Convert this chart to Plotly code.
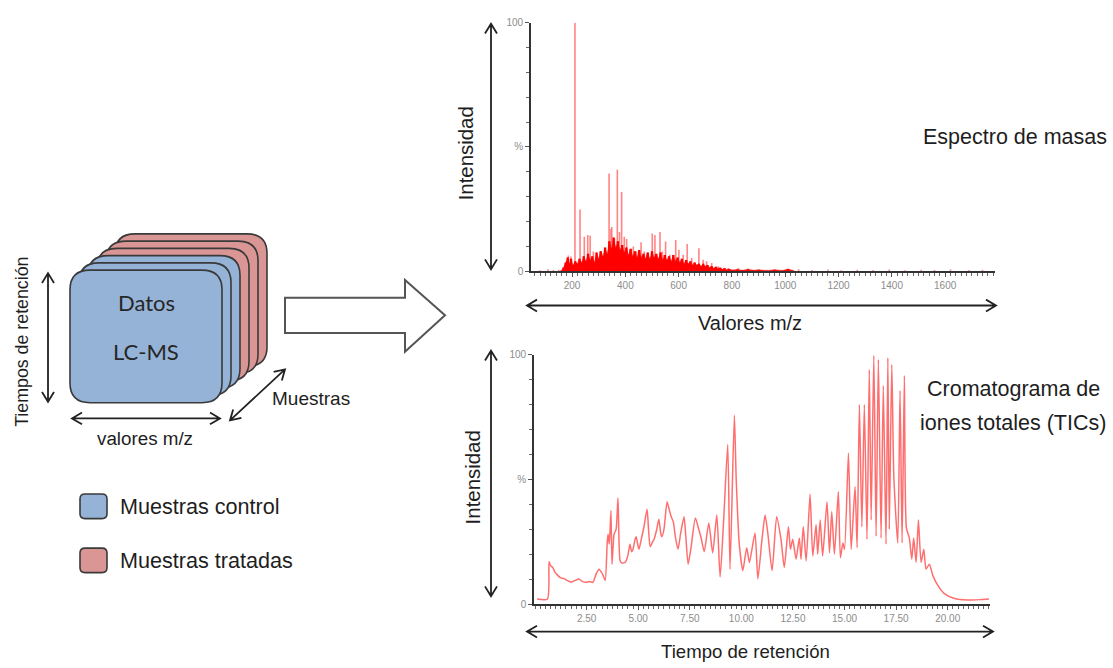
import plotly.graph_objects as go

W, H = 1113, 668

# ---------------- data ----------------
# mass spectrum: prominent peaks (m/z, relative intensity %)
peak_mz = [80, 110, 130, 150, 186, 196, 211, 230, 246, 259, 268, 280, 305, 324,
           339, 346, 349, 359, 370, 378, 386, 396, 405, 417, 430, 442, 459, 471,
           480, 501, 511, 530, 539, 551, 567, 589, 601, 617, 632, 649, 676, 692,
           705, 724, 749, 786, 824, 861, 1050, 1100, 1160, 1210, 1270, 1330, 1390,
           1450, 1510, 1560, 1620, 1690, 1740]
peak_int = [0.4, 0.8, 0.5, 0.6, 6.3, 5.9, 100, 24.8, 13.8, 14.5, 14.2, 7.9, 7.9, 9.2,
            39.3, 17, 17.8, 13.2, 40.8, 15.8, 31.9, 13.8, 12.9, 8.6, 9.9, 7.9, 11.6, 7.9,
            6.6, 15.2, 14.5, 15.8, 7.9, 11.9, 6.6, 12.5, 8.6, 6.6, 10.9, 5.3, 9.2, 4.6,
            4.0, 3.3, 2.0, 1.3, 1.3, 1.0, 0.8, 0.5, 0.7, 0.4, 0.6, 0.5, 0.7,
            0.4, 0.6, 0.5, 0.7, 0.5, 0.6]

# dense low-level ions of the spectrum
base_mz = [160, 168, 176, 184, 190, 196, 204, 212, 220, 228, 236, 244, 252, 260, 268,
           276, 284, 292, 300, 308, 316, 324, 332, 340, 348, 356, 364, 372, 380, 388,
           396, 404, 412, 420, 428, 436, 444, 452, 460, 468, 476, 484, 492, 500, 508,
           516, 524, 532, 540, 548, 556, 564, 572, 580, 588, 596, 604, 612, 620, 628,
           636, 644, 652, 660, 668, 676, 684, 692, 700, 708, 716, 724, 732, 740, 748,
           756, 764, 772, 780, 790, 800, 820, 840, 860, 880, 900, 930, 960, 990, 1010, 1030]
base_int = [0.3, 1.5, 3.5, 5.5, 3, 5, 2.5, 4, 3, 5, 3.5, 6, 4, 7, 4.5,
            6, 3.5, 7.5, 5, 8, 6, 9.5, 7, 12, 9, 13.5, 9.5, 12, 8.5, 10.5,
            7.5, 9.5, 6.5, 9, 6, 8, 5.5, 8.5, 5.5, 7, 5, 7.5, 5, 8, 5.5,
            7, 5, 7.5, 4.5, 6.5, 4.5, 6, 4, 6.5, 4, 5.5, 3.5, 5, 3, 4.5,
            3, 4, 2.5, 3.5, 2.5, 3, 2, 3, 2, 2.5, 1.5, 2, 1.2, 1.8, 1,
            1.4, 0.8, 1.2, 0.6, 0.9, 0.5, 0.7, 0.4, 0.8, 0.4, 0.6, 0.3, 0.6, 0.3, 0.9, 0.3]

mz_ticks = [200, 400, 600, 800, 1000, 1200, 1400, 1600]

# total ion chromatogram (retention time in min, relative intensity %)
tic_time = [0.1, 0.6, 0.68, 0.75, 0.87, 0.95, 1.1, 1.25, 1.4, 1.55, 1.75, 1.95, 2.13, 2.3,
            2.47, 2.65, 2.8, 2.96, 3.1, 3.2, 3.3, 3.4, 3.5, 3.54, 3.6, 3.68, 3.73, 3.83,
            3.93, 4.02, 4.12, 4.2, 4.31, 4.4, 4.5, 4.6, 4.68, 4.75, 4.85, 4.9, 5.0, 5.04,
            5.15, 5.28, 5.43, 5.5, 5.58, 5.7, 5.77, 5.9, 6.0, 6.1, 6.15, 6.25, 6.4, 6.5,
            6.6, 6.7, 6.8, 6.93, 7.05, 7.22, 7.3, 7.42, 7.55, 7.77, 7.9, 8.05, 8.2, 8.42,
            8.61, 8.81, 8.97, 9.15, 9.34, 9.45, 9.66, 9.75, 9.9, 10.07, 10.26, 10.39, 10.66,
            10.8, 11.0, 11.15, 11.28, 11.49, 11.71, 11.92, 12.08, 12.28, 12.38, 12.49,
            12.65, 12.81, 12.89, 13.0, 13.14, 13.33, 13.46, 13.62, 13.7, 13.82, 13.94,
            14.15, 14.27, 14.38, 14.51, 14.7, 14.8, 14.92, 15.0, 15.19, 15.32, 15.51,
            15.61, 15.72, 15.84, 15.96, 16.09, 16.2, 16.29, 16.42, 16.53, 16.64, 16.77,
            16.88, 17.01, 17.1, 17.17, 17.29, 17.39, 17.58, 17.69, 17.79, 17.9, 18.0,
            18.14, 18.26, 18.35, 18.47, 18.58, 18.71, 18.84, 18.95, 19.11, 19.28, 19.52,
            19.84, 20.33, 20.97, 21.62, 22.0]
tic_int = [2, 2, 17, 15.5, 14.5, 13, 11.5, 10.5, 10.2, 9.5, 8.8, 9.5, 10, 9,
           8.7, 9, 8.7, 12, 14, 13, 11.5, 9.5, 25, 28, 24, 37.5, 16, 28,
           30, 42.5, 17.5, 16.5, 16.5, 17, 19.5, 24, 21, 22, 26, 27, 23, 22,
           26, 31, 38, 30, 23, 25, 26, 30, 34, 28, 27, 30, 41, 38,
           35, 33, 27, 22, 28, 35, 28, 16, 22, 34.5, 31, 26.5, 21, 32.5,
           20.5, 35.7, 10.8, 35, 64, 14, 75.7, 50, 24, 13.4, 22.6, 16.7, 28.5,
           10.1, 26, 35.7, 28.5, 13.4, 35, 26, 14.7, 31, 22, 26,
           18, 26.5, 18, 31, 17.3, 44, 19.3, 31.8, 20, 33.7, 19.3,
           41, 20.6, 37, 20, 45, 18.6, 24.5, 21.9, 60.6, 21.9, 47,
           22.6, 80, 31, 80, 26, 94, 33.7, 99.6, 27.2, 98, 26.5,
           87.5, 24, 98.7, 30, 96, 51, 24.5, 85.6, 24.5, 91.5, 30.4,
           26.5, 18, 26.5, 16.7, 33.7, 16.7, 22, 14, 16, 11.4, 7.5,
           4.2, 2.2, 1.6, 1.8, 2]

time_ticks = [2.5, 5.0, 7.5, 10.0, 12.5, 15.0, 17.5, 20.0]
int_ticks = [0, 50, 100]
int_labels = ["0", "%", "100"]

BLUE = "#95B3D7"
RED = "#D99694"
EDGE = "#3a3a3a"
TXT = "#1e1e1e"
FONT = "Liberation Sans, Arial, sans-serif"


def X(px):
    return px / W


def Y(py):
    return 1 - py / H


def pt(px, py):
    return f"{X(px):.5f},{Y(py):.5f}"


def rrect(x0, y0, x1, y1, r):
    return (f"M {pt(x0 + r, y0)} L {pt(x1 - r, y0)} Q {pt(x1, y0)} {pt(x1, y0 + r)} "
            f"L {pt(x1, y1 - r)} Q {pt(x1, y1)} {pt(x1 - r, y1)} "
            f"L {pt(x0 + r, y1)} Q {pt(x0, y1)} {pt(x0, y1 - r)} "
            f"L {pt(x0, y0 + r)} Q {pt(x0, y0)} {pt(x0 + r, y0)} Z")


def double_arrow(x0, y0, x1, y1, L=10, w=6):
    dx, dy = x1 - x0, y1 - y0
    n = (dx * dx + dy * dy) ** 0.5
    ux, uy = dx / n, dy / n
    nx, ny = -uy, ux
    a1 = (x1 - L * ux + w * nx, y1 - L * uy + w * ny)
    a2 = (x1 - L * ux - w * nx, y1 - L * uy - w * ny)
    b1 = (x0 + L * ux + w * nx, y0 + L * uy + w * ny)
    b2 = (x0 + L * ux - w * nx, y0 + L * uy - w * ny)
    return (f"M {pt(x0, y0)} L {pt(x1, y1)} "
            f"M {pt(*a1)} L {pt(x1, y1)} L {pt(*a2)} "
            f"M {pt(*b1)} L {pt(x0, y0)} L {pt(*b2)}")


def sticks(xs, ys):
    sx, sy = [], []
    for m, v in zip(xs, ys):
        sx += [m, m, None]
        sy += [0, v, None]
    return sx, sy


fig = go.Figure()

# spectrum: tall peaks in light red, dense ion cloud in solid red on top
px_, py_ = sticks(peak_mz, peak_int)
fig.add_trace(go.Scatter(x=px_, y=py_, mode="lines",
                         line=dict(color="rgba(255,110,110,0.85)", width=1.6),
                         xaxis="x", yaxis="y", hoverinfo="skip"))
fig.add_trace(go.Scatter(x=base_mz, y=base_int, mode="lines", fill="tozeroy",
                         line=dict(color="rgba(255,0,0,0.6)", width=0.6),
                         fillcolor="rgba(255,0,0,0.92)",
                         xaxis="x", yaxis="y", hoverinfo="skip"))
bx_, by_ = sticks(base_mz, base_int)
fig.add_trace(go.Scatter(x=bx_, y=by_, mode="lines",
                         line=dict(color="#ff0000", width=2.4),
                         xaxis="x", yaxis="y", hoverinfo="skip"))

# chromatogram
fig.add_trace(go.Scatter(x=tic_time, y=tic_int, mode="lines",
                         line=dict(color="rgba(255,85,85,0.85)", width=1.5,
                                   shape="spline", smoothing=0.6),
                         xaxis="x2", yaxis="y2", hoverinfo="skip"))

axis_common = dict(showline=True, linecolor="#333", linewidth=1.6, showgrid=False,
                   zeroline=False, ticks="outside", ticklen=4, tickwidth=1,
                   tickcolor="#555", tickfont=dict(size=10, color="#8c8c8c",
                                                   family="Liberation Sans, Arial"),
                   fixedrange=True)

fig.update_layout(
    width=W, height=H, margin=dict(l=0, r=0, t=0, b=0),
    paper_bgcolor="white", plot_bgcolor="white", showlegend=False,
    xaxis=dict(domain=[X(531), X(995)], anchor="y", range=[46, 1787],
               tickmode="array", tickvals=mz_ticks,
               minor=dict(dtick=20, tick0=0, ticks="outside", ticklen=3, tickcolor="#666"),
               **axis_common),
    yaxis=dict(domain=[Y(270), Y(17)], anchor="x", range=[0, 100],
               tickmode="array", tickvals=int_ticks, ticktext=int_labels,
               minor=dict(dtick=10, tick0=0, ticks="outside", ticklen=3, tickcolor="#666"),
               **axis_common),
    xaxis2=dict(domain=[X(534), X(990)], anchor="y2", range=[-0.05, 22.05],
                tickmode="array", tickvals=time_ticks, tickformat=".2f",
                minor=dict(dtick=0.25, tick0=0, ticks="outside", ticklen=3, tickcolor="#666"),
                **axis_common),
    yaxis2=dict(domain=[Y(609), Y(355)], anchor="x2", range=[0, 100],
                tickmode="array", tickvals=int_ticks, ticktext=int_labels,
                minor=dict(dtick=10, tick0=0, ticks="outside", ticklen=3, tickcolor="#666"),
                **axis_common),
)

shapes = []
# stacked LC-MS data sheets (back to front)
stack_colors = [RED, RED, RED, BLUE, BLUE, BLUE]
for i, col in enumerate(stack_colors):
    k = 5 - i
    dx, dy = 9 * k, -7.4 * k
    shapes.append(dict(type="path", path=rrect(70 + dx, 269 + dy, 222 + dx, 404 + dy, 20),
                       xref="paper", yref="paper", fillcolor=col,
                       line=dict(color=EDGE, width=1.6), layer="above"))

# legend swatches
shapes.append(dict(type="path", path=rrect(80, 497, 107, 522, 5), xref="paper", yref="paper",
                   fillcolor=BLUE, line=dict(color=EDGE, width=1.6)))
shapes.append(dict(type="path", path=rrect(80, 552, 107, 577, 5), xref="paper", yref="paper",
                   fillcolor=RED, line=dict(color=EDGE, width=1.6)))

# hollow block arrow
arrow_pts = [(285, 297), (405, 297), (405, 279), (445, 315), (405, 352), (405, 333), (285, 333)]
shapes.append(dict(type="path",
                   path="M " + " L ".join(pt(a, b) for a, b in arrow_pts) + " Z",
                   xref="paper", yref="paper", fillcolor="white",
                   line=dict(color="#555", width=2)))

# dimension arrows
for seg in [(48, 272, 48, 403), (72, 420, 220, 420), (230, 422, 285, 370),
            (491, 18, 491, 268), (491, 351, 491, 601),
            (527, 305, 996, 305), (527, 637, 993, 637)]:
    shapes.append(dict(type="path", path=double_arrow(*seg), xref="paper", yref="paper",
                       line=dict(color="#222", width=1.8)))

fig.update_layout(shapes=shapes)


def label(text, px, py, size=20, angle=0, xanchor="center", family=FONT, color=TXT):
    fig.add_annotation(text=text, x=X(px), y=Y(py), xref="paper", yref="paper",
                       showarrow=False, textangle=angle, xanchor=xanchor, yanchor="middle",
                       font=dict(size=size, color=color, family=family))


label("Espectro de masas", 921, 133, size=21.5, xanchor="left")
label("Cromatograma de", 1013, 390, size=21.5)
label("iones totales (TICs)", 1013, 425, size=21.5)
label("Valores m/z", 750, 323, size=20)
label("Tiempo de retención", 745, 657, size=18.6)
label("Intensidad", 466, 150, size=20.4, angle=-90)
label("Intensidad", 473, 480, size=20.4, angle=-90)
label("Tiempos de retención", 22, 342, size=17.8, angle=-90)
label("valores m/z", 145, 440, size=18.8)
label("Muestras", 311, 400, size=19)
label("Muestras control", 118, 510, size=21.6, xanchor="left")
label("Muestras tratadas", 118, 565, size=21.6, xanchor="left")
label("Datos", 146, 302, size=22, family="Lato, Open Sans, sans-serif", color="#262626")
label("LC-MS", 146, 352, size=22, family="Lato, Open Sans, sans-serif", color="#262626")

fig.write_html("out.html")
